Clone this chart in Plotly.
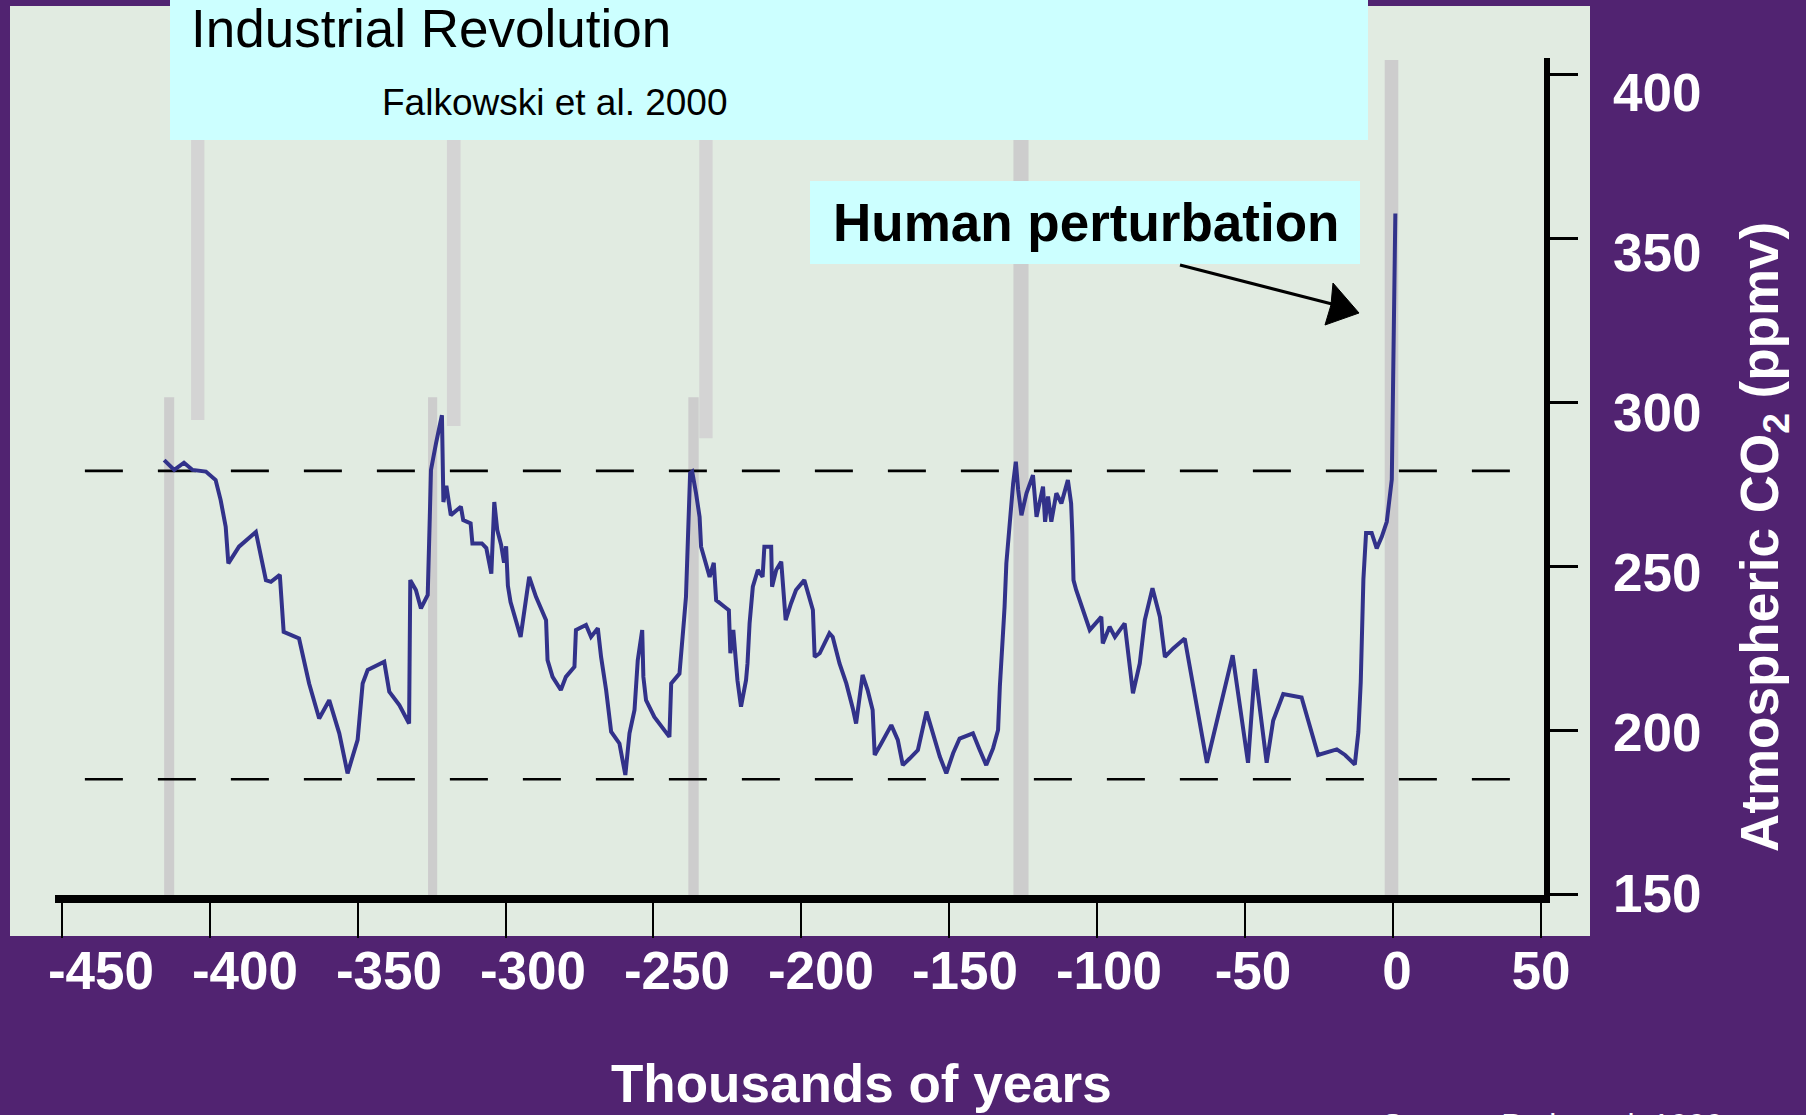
import plotly.graph_objects as go

# ---------------- data ----------------
years = [-415.4, -412.0, -408.7, -405.8, -401.3, -398.0, -396.3, -394.6, -393.7, -390.1,
         -384.4, -381.0, -379.3, -376.3, -375.0, -369.8, -366.4, -363.0, -359.6, -356.2,
         -353.4, -350.0, -348.3, -346.6, -341.0, -339.3, -335.9, -332.6, -332.2, -330.3,
         -328.6, -326.3, -325.6, -325.2, -323.5, -321.5, -321.0, -320.0, -318.5, -315.1,
         -314.3, -311.8, -311.2, -308.0, -306.5, -304.8, -303.8, -302.8, -301.5, -300.5,
         -299.8, -299.2, -298.3, -294.9, -292.0, -289.7, -286.3, -285.8, -284.1, -281.3,
         -279.6, -276.7, -276.2, -272.8, -271.1, -268.8, -267.7, -266.0, -264.3, -261.5,
         -259.5, -258.1, -256.4, -255.3, -253.8, -253.4, -252.5, -249.7, -244.6, -244.0,
         -241.2, -240.7, -240.1, -239.0, -237.6, -236.9, -235.6, -234.4, -233.9, -232.2,
         -231.0, -229.6, -228.8, -226.0, -224.5, -224.0, -223.0, -221.6, -220.4, -218.7,
         -218.2, -217.5, -216.4, -214.7, -213.1, -212.5, -210.2, -209.9, -208.5, -206.8,
         -206.3, -205.3, -203.5, -201.8, -199.0, -197.2, -196.1, -195.5, -193.8, -190.5,
         -189.4, -187.1, -184.8, -182.6, -181.5, -179.3, -177.6, -175.9, -175.2, -173.0,
         -169.6, -167.4, -165.7, -163.4, -160.6, -157.7, -155.5, -153.2, -151.0, -148.7,
         -146.5, -142.0, -139.7, -137.5, -135.2, -133.5, -132.9, -132.0, -131.3, -130.7,
         -129.6, -128.4, -127.5, -126.7, -125.6, -123.9, -121.7, -120.5, -118.3, -117.6,
         -116.6, -115.5, -113.8, -112.1, -109.9, -108.8, -108.4, -108.0, -107.1, -104.8,
         -102.5, -98.6, -98.1, -95.8, -94.0, -90.7, -89.0, -87.9, -85.6, -83.9,
         -81.3, -78.8, -77.1, -74.3, -70.4, -68.7, -66.4, -64.2, -62.9, -54.2,
         -49.0, -46.7, -42.7, -40.5, -37.1, -30.9, -28.1, -25.3, -19.0, -16.2,
         -12.9, -11.7, -10.9, -10.6, -10.0, -9.1, -7.2, -5.5, -3.8, -2.1,
         -1.0, -0.4, 0.1, 0.8]
co2 = [282.3, 279.3, 281.5, 279.3, 278.8, 276.2, 270.1, 262.0, 250.8, 255.9,
       260.4, 245.7, 245.2, 247.3, 229.9, 227.9, 214.2, 203.5, 209.1, 199.0,
       186.8, 197.0, 214.2, 218.3, 220.8, 211.7, 207.6, 202.0, 245.7, 242.7,
       237.1, 241.2, 265.0, 279.3, 287.4, 296.0, 269.5, 274.5, 265.5, 268.1,
       264.0, 263.0, 256.9, 256.9, 255.5, 247.7, 269.5, 261.0, 256.5, 251.0,
       256.0, 244.0, 239.0, 228.4, 246.7, 240.6, 233.5, 221.3, 216.2, 212.2,
       216.2, 219.3, 230.5, 232.0, 228.4, 231.0, 222.3, 212.2, 199.5, 195.9,
       186.3, 199.0, 206.1, 221.3, 230.5, 216.2, 209.1, 204.0, 197.9, 214.2,
       217.2, 222.3, 228.4, 240.6, 278.3, 278.8, 272.2, 265.0, 255.9, 249.8,
       246.7, 251.0, 239.6, 237.6, 236.5, 223.4, 230.5, 215.2, 207.1, 215.2,
       220.3, 232.5, 243.7, 248.8, 246.7, 255.9, 255.9, 243.7, 248.8, 251.3,
       245.7, 233.5, 238.6, 242.7, 245.7, 240.6, 236.6, 222.3, 223.4, 229.5,
       228.4, 220.3, 214.2, 206.6, 202.0, 216.8, 212.2, 206.1, 192.4, 195.9,
       201.5, 197.0, 189.3, 191.3, 193.9, 205.6, 199.0, 191.9, 186.8, 192.9,
       197.4, 199.0, 193.9, 189.3, 194.4, 200.0, 213.2, 225.4, 237.6, 250.8,
       263.0, 275.2, 281.8, 273.2, 265.5, 272.2, 277.7, 265.0, 274.2, 263.5,
       271.2, 263.5, 272.2, 269.1, 276.2, 269.1, 259.9, 245.7, 242.7, 236.6,
       230.5, 234.5, 226.4, 231.5, 228.4, 232.5, 220.3, 211.2, 220.3, 233.5,
       243.2, 234.5, 222.3, 224.9, 227.9, 219.3, 206.1, 195.9, 190.0, 222.8,
       190.0, 218.6, 190.0, 202.9, 211.0, 209.9, 200.6, 192.4, 194.1, 192.4,
       189.5, 199.4, 214.6, 230.9, 246.0, 260.1, 260.1, 255.4, 258.9, 263.5,
       271.7, 276.4, 310.2, 357.5]

ref_levels = [279, 185]                      # dashed glacial / interglacial bounds (ppmv)

x_ticks = [-450, -400, -350, -300, -250, -200, -150, -100, -50, 0, 50]
x_tick_text = ["-450", "-400", "-350", "-300", "-250", "-200", "-150", "-100", "-50", "0", "50"]
y_ticks = [150, 200, 250, 300, 350, 400]
y_tick_text = ["150", "200", "250", "300", "350", "400"]

# interglacial marker bars (thousands of years / ppmv)
bar_lo_x0 = [-415.4, -326.2, -238.2]
bar_lo_x1 = [-412.0, -323.1, -234.7]
bar_lo_top = [301.5, 301.5, 301.5]
bar_hi_x0 = [-406.3, -319.8, -234.5]
bar_hi_x1 = [-401.8, -315.2, -230.0]
bar_hi_bottom = [294.5, 292.7, 289.0]
bar_full_x0 = [-128.3, -2.8]
bar_full_x1 = [-123.2, 1.8]
bar_full_top = [379.9, 404.3]

# ---------------- layout geometry ----------------
W, H = 1806, 1115
L, R, T, B = 55, 1544, 58, 895          # plot area pixel edges

def fx(X):
    return (X - L) / (R - L)

def fy(Y):
    return (B - Y) / (B - T)

FONT = "Liberation Sans, Arial, Helvetica, sans-serif"
PURPLE = "#512371"
PANEL = "#E1EBE1"
CYAN = "#CCFFFF"
LINE = "#32328A"

fig = go.Figure()
fig.add_trace(go.Scatter(x=years, y=co2, mode="lines",
                         line=dict(color=LINE, width=4),
                         hoverinfo="skip", showlegend=False))
# empty trace that carries the label axes
fig.add_trace(go.Scatter(x=[None], y=[None], xaxis="x2", yaxis="y2",
                         mode="lines", hoverinfo="skip", showlegend=False))

shapes = []
# light panel
shapes.append(dict(type="rect", xref="paper", yref="paper", layer="below",
                   x0=fx(10), x1=fx(1590), y0=fy(936), y1=fy(6),
                   fillcolor=PANEL, line=dict(width=0)))
# grey interglacial bars
for a, b, t in zip(bar_lo_x0, bar_lo_x1, bar_lo_top):
    shapes.append(dict(type="rect", xref="x", yref="y", layer="below",
                       x0=a, x1=b, y0=149.7, y1=t,
                       fillcolor="#CDCDCD", line=dict(width=0)))
for a, b, bt in zip(bar_hi_x0, bar_hi_x1, bar_hi_bottom):
    shapes.append(dict(type="rect", xref="x", yref="y", layer="below",
                       x0=a, x1=b, y0=bt, y1=390,
                       fillcolor="#D4D4D4", line=dict(width=0)))
for a, b, t in zip(bar_full_x0, bar_full_x1, bar_full_top):
    shapes.append(dict(type="rect", xref="x", yref="y", layer="below",
                       x0=a, x1=b, y0=149.7, y1=t,
                       fillcolor="#CDCDCD", line=dict(width=0)))
# dashed reference levels
for lv in ref_levels:
    shapes.append(dict(type="line", xref="x", yref="y", layer="below",
                       x0=-442.2, x1=46.9, y0=lv, y1=lv,
                       line=dict(color="black", width=2.6, dash="38px,35px")))
# cyan boxes
shapes.append(dict(type="rect", xref="paper", yref="paper", layer="above",
                   x0=fx(170), x1=fx(1368), y0=fy(140), y1=fy(-5),
                   fillcolor=CYAN, line=dict(width=0)))
shapes.append(dict(type="rect", xref="paper", yref="paper", layer="above",
                   x0=fx(810), x1=fx(1360), y0=fy(264), y1=fy(181),
                   fillcolor=CYAN, line=dict(width=0)))
# arrow
shapes.append(dict(type="line", xref="paper", yref="paper", layer="above",
                   x0=fx(1180), y0=fy(265), x1=fx(1332), y1=fy(304),
                   line=dict(color="black", width=3)))
head = "M {:.5f} {:.5f} L {:.5f} {:.5f} L {:.5f} {:.5f} L {:.5f} {:.5f} Z".format(
    fx(1359), fy(313), fx(1333), fy(283), fx(1331), fy(305), fx(1325), fy(325))
shapes.append(dict(type="path", xref="paper", yref="paper", layer="above",
                   path=head, fillcolor="black", line=dict(color="black", width=1)))

annotations = [
    dict(text="Industrial Revolution", xref="paper", yref="paper",
         x=fx(189), y=fy(28), xanchor="left", yanchor="middle", showarrow=False,
         font=dict(family=FONT, size=53, color="black")),
    dict(text="Falkowski et al. 2000", xref="paper", yref="paper",
         x=fx(380), y=fy(103), xanchor="left", yanchor="middle", showarrow=False,
         font=dict(family=FONT, size=37, color="black")),
    dict(text="Human perturbation", xref="paper", yref="paper",
         x=fx(1086), y=fy(222), xanchor="center", yanchor="middle", showarrow=False,
         font=dict(family=FONT, size=53, color="black", weight=700)),
    dict(text="Atmospheric CO<sub>2</sub> (ppmv)", xref="paper", yref="paper",
         x=fx(1763), y=fy(537), xanchor="center", yanchor="middle", textangle=-90,
         showarrow=False, font=dict(family=FONT, size=53, color="white", weight=700)),
    dict(text="Thousands of years", xref="paper", yref="paper",
         x=fx(862), y=fy(1083), xanchor="center", yanchor="middle", showarrow=False,
         font=dict(family=FONT, size=53, color="white", weight=700)),
    dict(text="Source: Petit et al. 1999", xref="paper", yref="paper",
         x=fx(1380), y=fy(1125), xanchor="left", yanchor="middle", showarrow=False,
         font=dict(family=FONT, size=32, color="white")),
]

fig.update_layout(
    width=W, height=H,
    margin=dict(l=L, r=W - R, t=T, b=H - B, pad=0),
    paper_bgcolor=PURPLE, plot_bgcolor=PANEL,
    showlegend=False,
    shapes=shapes, annotations=annotations,
    xaxis=dict(range=[-452.3, 51.05], showgrid=False, zeroline=False,
               showline=True, linecolor="black", linewidth=8,
               ticks="outside", tickvals=x_ticks, ticklen=35, tickwidth=2,
               tickcolor="black", showticklabels=False),
    yaxis=dict(range=[149.7, 404.9], side="right", showgrid=False, zeroline=False,
               showline=True, linecolor="black", linewidth=6,
               ticks="outside", tickvals=y_ticks, ticklen=28, tickwidth=3,
               tickcolor="black", showticklabels=False),
    xaxis2=dict(range=[-465.97, 51.04], overlaying="x", anchor="y", side="bottom",
                showgrid=False, zeroline=False, showline=False, ticks="",
                tickvals=x_ticks, ticktext=x_tick_text, ticklabelstandoff=40,
                tickfont=dict(family=FONT, size=53, color="white", weight=700)),
    yaxis2=dict(range=[149.38, 410.78], overlaying="y", anchor="x", side="right",
                showgrid=False, zeroline=False, showline=False, ticks="",
                tickvals=y_ticks, ticktext=y_tick_text, ticklabelstandoff=68,
                tickfont=dict(family=FONT, size=53, color="white", weight=700)),
)

fig.write_html("out.html",
               config={"displayModeBar": False},
               post_script="document.body.style.margin='0';"
                           "document.body.style.overflow='hidden';")
